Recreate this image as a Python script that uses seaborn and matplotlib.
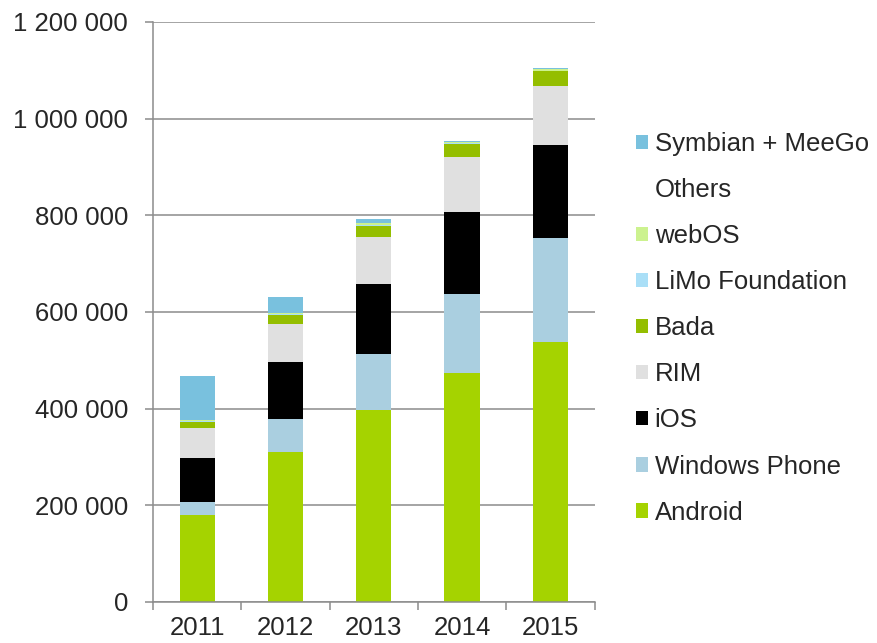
import numpy as np
import pandas as pd
import seaborn as sns
import matplotlib.pyplot as plt
from matplotlib.patches import Patch
from matplotlib.ticker import FuncFormatter, FixedLocator

years = ['2011', '2012', '2013', '2014', '2015']
# units, stacked bottom -> top
android = [180000, 311000, 397000, 474500, 538000]
windows_phone = [27000, 67500, 115500, 163000, 216000]
ios = [90500, 119000, 146000, 170000, 190500]
rim = [63000, 78500, 97000, 113000, 123000]
bada = [12000, 18000, 23000, 28000, 31000]
limo = [2500, 1500, 2000, 1000, 1000]
webos = [2500, 1500, 3000, 3000, 4000]
others = [0, 0, 0, 0, 0]
symbian = [90000, 34000, 8000, 1000, 700]

series = ['Android', 'Windows Phone', 'iOS', 'RIM', 'Bada', 'LiMo Foundation', 'webOS', 'Others', 'Symbian + MeeGo']
values = [android, windows_phone, ios, rim, bada, limo, webos, others, symbian]
colors = ['#a5d300', '#aacfe0', '#000000', '#e0e0e0', '#94be00', '#aadff7', '#ccf28f', 'none', '#79c1de']

sns.set_style('white')
plt.rcParams['font.family'] = ['Liberation Sans', 'DejaVu Sans']

fig = plt.figure(figsize=(8.77, 6.43), dpi=100)
ax = fig.add_axes([0.1745, 0.0638, 0.5035, 0.902])

bottom = np.zeros(len(years))
for name, vals, col in zip(series, values, colors):
    df = pd.DataFrame({'year': years, 'units': vals})
    if col != 'none':
        sns.barplot(data=df, x='year', y='units', color=col, width=0.4,
                    bottom=bottom, errorbar=None, ax=ax, linewidth=0, saturation=1)
    bottom = bottom + np.array(vals)

ax.set_ylim(0, 1200000)
ax.set_xlim(-0.5, 4.5)
ax.set_yticks(range(0, 1200001, 200000))
ax.yaxis.set_major_formatter(FuncFormatter(lambda v, p: f'{int(v):,}'.replace(',', ' ')))
ax.grid(axis='y', color='#8c8c8c', linewidth=1.1)
ax.set_axisbelow(True)
ax.set_xlabel('')
ax.set_ylabel('')

for s in ['top', 'right']:
    ax.spines[s].set_visible(False)
for s in ['left', 'bottom']:
    ax.spines[s].set_color('#8c8c8c')
    ax.spines[s].set_linewidth(1.1)

ax.xaxis.set_minor_locator(FixedLocator(np.arange(-0.5, 5, 1)))
ax.tick_params(axis='x', which='major', length=0, pad=10, labelsize=18.5)
ax.tick_params(axis='x', which='minor', length=6, color='#8c8c8c', width=1.1, direction='out', bottom=True)
ax.tick_params(axis='y', length=6, color='#8c8c8c', width=1.1, direction='out', left=True, pad=12, labelsize=18.5)

handles = [Patch(facecolor=c, edgecolor='none') for c in colors]
leg = ax.legend(handles[::-1], series[::-1], loc='center left', bbox_to_anchor=(1.07, 0.472),
                frameon=False, fontsize=18.5, handlelength=0.48, handleheight=0.48,
                handletextpad=0.25, labelspacing=0.86, borderaxespad=0)

fig.savefig('out.png', dpi=100)
